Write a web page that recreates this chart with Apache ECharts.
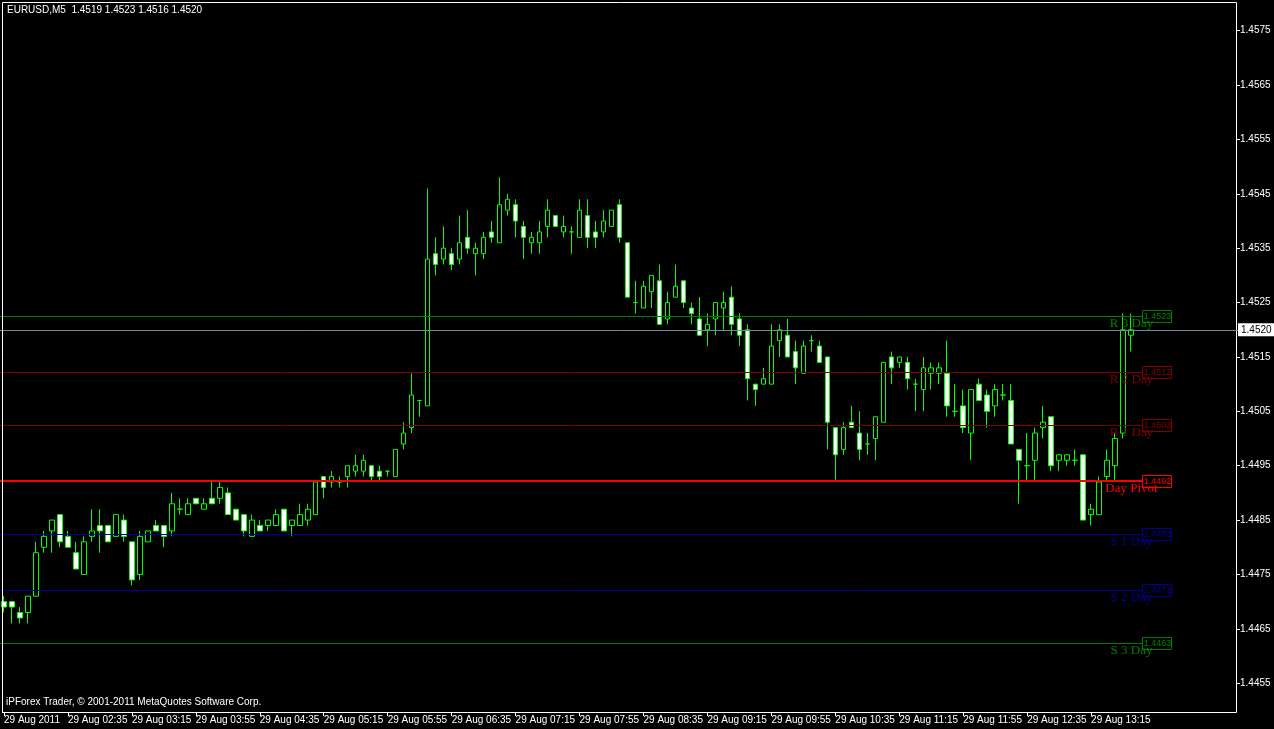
<!DOCTYPE html>
<html><head><meta charset="utf-8">
<script src="https://cdn.jsdelivr.net/npm/echarts@6/dist/echarts.min.js"></script>
<style>html,body{margin:0;padding:0;background:#000;}#c{width:1274px;height:729px;}</style>
</head><body><div id="c"></div>
<script>
const symbolName = 'EURUSD,M5';
const copyright = 'iPForex Trader, \u00a9 2001-2011 MetaQuotes Software Corp.';
const startTime = '01:55';
const barMinutes = 5;
const shiftBars = 13;

const openP = [1.4470,1.4470,1.4468,1.4468,1.4471,1.4480,1.4483,1.4486,1.4482,1.4479,
1.4475,1.4482,1.4484,1.4484,1.4482,1.4485,1.4481,1.4475,1.4481,1.4484,
1.4484,1.4483,1.4487,1.4486,1.4489,1.4487,1.4489,1.4489,1.4490,1.4487,
1.4486,1.4482,1.4484,1.4484,1.4484,1.4487,1.4484,1.4484,1.4485,1.4486,
1.4493,1.4492,1.4492,1.4493,1.4494,1.4494,1.4495,1.4494,1.4494,1.4493,
1.4499,1.4502,1.4507,1.4506,1.4534,1.4533,1.4534,1.4533,1.4537,1.4534,
1.4534,1.4538,1.4536,1.4542,1.4543,1.4539,1.4536,1.4536,1.4539,1.4541,
1.4538,1.4538,1.4537,1.4541,1.4538,1.4538,1.4539,1.4543,1.4536,1.4525,
1.4524,1.4527,1.4529,1.4522,1.4526,1.4529,1.4524,1.4522,1.4520,1.4522,
1.4524,1.4526,1.4522,1.4520,1.4510,1.4510,1.4510,1.4518,1.4519,1.4516,
1.4512,1.4518,1.4517,1.4515,1.4502,1.4498,1.4503,1.4501,1.4499,1.4500,
1.4503,1.4515,1.4514,1.4514,1.4510,1.4509,1.4512,1.4512,1.4512,1.4505,
1.4506,1.4501,1.4510,1.4508,1.4506,1.4508,1.4507,1.4498,1.4495,1.4496,
1.4502,1.4504,1.4496,1.4496,1.4496,1.4497,1.4486,1.4486,1.4493,1.4495,
1.4501,1.4519];
const closeP = [1.4469,1.4469,1.4467,1.4471,1.4479,1.4482,1.4485,1.4481,1.4480,1.4476,
1.4481,1.4483,1.4483,1.4481,1.4486,1.4482,1.4474,1.4482,1.4483,1.4483,
1.4482,1.4488,1.4487,1.4488,1.4488,1.4488,1.4488,1.4491,1.4486,1.4485,
1.4483,1.4485,1.4483,1.4485,1.4486,1.4483,1.4485,1.4486,1.4487,1.4492,
1.4491,1.4493,1.4492,1.4495,1.4495,1.4496,1.4493,1.4493,1.4494,1.4498,
1.4501,1.4508,1.4507,1.4533,1.4532,1.4535,1.4532,1.4536,1.4535,1.4535,
1.4537,1.4537,1.4543,1.4544,1.4540,1.4537,1.4537,1.4538,1.4542,1.4539,
1.4539,1.4538,1.4542,1.4537,1.4537,1.4540,1.4542,1.4537,1.4526,1.4525,
1.4528,1.4530,1.4521,1.4525,1.4528,1.4525,1.4523,1.4519,1.4521,1.4525,
1.4525,1.4521,1.4519,1.4511,1.4509,1.4511,1.4517,1.4520,1.4515,1.4513,
1.4517,1.4518,1.4514,1.4503,1.4497,1.4502,1.4502,1.4498,1.4499,1.4504,
1.4514,1.4513,1.4515,1.4511,1.4510,1.4513,1.4513,1.4513,1.4506,1.4505,
1.4502,1.4509,1.4507,1.4505,1.4509,1.4508,1.4499,1.4496,1.4495,1.4501,
1.4503,1.4495,1.4497,1.4497,1.4496,1.4485,1.4487,1.4492,1.4496,1.4500,
1.4520,1.4520];
const lowP = [1.4468,1.4466,1.4466,1.4466,1.4471,1.4479,1.4479,1.4480,1.4480,1.4476,
1.4475,1.4481,1.4479,1.4481,1.4482,1.4481,1.4473,1.4474,1.4481,1.4483,
1.4480,1.4482,1.4486,1.4486,1.4488,1.4487,1.4488,1.4488,1.4486,1.4485,
1.4482,1.4482,1.4483,1.4483,1.4484,1.4483,1.4482,1.4484,1.4484,1.4486,
1.4489,1.4491,1.4491,1.4491,1.4493,1.4493,1.4492,1.4492,1.4493,1.4493,
1.4498,1.4501,1.4504,1.4506,1.4530,1.4532,1.4531,1.4532,1.4534,1.4530,
1.4533,1.4536,1.4536,1.4541,1.4537,1.4533,1.4534,1.4534,1.4537,1.4539,
1.4537,1.4534,1.4537,1.4535,1.4535,1.4537,1.4539,1.4536,1.4526,1.4523,
1.4524,1.4524,1.4521,1.4521,1.4526,1.4524,1.4521,1.4519,1.4517,1.4519,
1.4520,1.4519,1.4517,1.4507,1.4506,1.4510,1.4510,1.4515,1.4515,1.4510,
1.4512,1.4516,1.4514,1.4498,1.4492,1.4497,1.4502,1.4496,1.4497,1.4496,
1.4503,1.4510,1.4513,1.4509,1.4505,1.4505,1.4509,1.4510,1.4504,1.4504,
1.4501,1.4496,1.4507,1.4502,1.4504,1.4507,1.4499,1.4488,1.4492,1.4492,
1.4500,1.4494,1.4494,1.4495,1.4495,1.4485,1.4484,1.4486,1.4492,1.4492,
1.4500,1.4516];
const highP = [1.4471,1.4470,1.4469,1.4471,1.4481,1.4483,1.4485,1.4486,1.4483,1.4481,
1.4482,1.4487,1.4487,1.4484,1.4486,1.4486,1.4481,1.4483,1.4483,1.4485,
1.4484,1.4490,1.4489,1.4489,1.4489,1.4489,1.4492,1.4492,1.4491,1.4487,
1.4486,1.4486,1.4485,1.4485,1.4487,1.4487,1.4485,1.4488,1.4488,1.4492,
1.4493,1.4494,1.4493,1.4495,1.4497,1.4497,1.4495,1.4495,1.4494,1.4498,
1.4503,1.4512,1.4507,1.4546,1.4537,1.4539,1.4535,1.4541,1.4542,1.4536,
1.4538,1.4540,1.4548,1.4545,1.4544,1.4540,1.4538,1.4540,1.4544,1.4541,
1.4541,1.4539,1.4544,1.4544,1.4540,1.4542,1.4542,1.4544,1.4536,1.4529,
1.4529,1.4530,1.4532,1.4527,1.4532,1.4529,1.4525,1.4526,1.4523,1.4525,
1.4527,1.4528,1.4523,1.4521,1.4510,1.4513,1.4521,1.4521,1.4522,1.4518,
1.4518,1.4519,1.4518,1.4515,1.4502,1.4503,1.4506,1.4505,1.4501,1.4504,
1.4514,1.4516,1.4515,1.4515,1.4511,1.4515,1.4514,1.4514,1.4518,1.4510,
1.4509,1.4509,1.4511,1.4509,1.4510,1.4510,1.4510,1.4498,1.4501,1.4502,
1.4506,1.4504,1.4497,1.4497,1.4498,1.4497,1.4488,1.4493,1.4498,1.4501,
1.4523,1.4523];

const xTickLabels = ['29 Aug 2011','29 Aug 02:35','29 Aug 03:15','29 Aug 03:55','29 Aug 04:35','29 Aug 05:15',
'29 Aug 05:55','29 Aug 06:35','29 Aug 07:15','29 Aug 07:55','29 Aug 08:35','29 Aug 09:15','29 Aug 09:55',
'29 Aug 10:35','29 Aug 11:15','29 Aug 11:55','29 Aug 12:35','29 Aug 13:15'];
const xTickStep = 8;
const yTickValues = [1.4455,1.4465,1.4475,1.4485,1.4495,1.4505,1.4515,1.4525,1.4535,1.4545,1.4555,1.4565,1.4575];
const yMin = 1.44497, yMax = 1.45801;

const levelNames = ['R 3 Day','R 2 Day','R 1 Day','Day Pivot','S 1 Day','S 2 Day','S 3 Day'];
const levelValues = [1.45225,1.45122,1.45025,1.44922,1.44824,1.44721,1.44624];
const levelLabels = ['1.4523','1.4512','1.4503','1.4492','1.4483','1.4472','1.4463'];

// styles
const levelStyles = [
  {color:'#008000', width:1},
  {color:'#800000', width:1},
  {color:'#800000', width:1},
  {color:'#ff0000', width:2},
  {color:'#000099', width:1},
  {color:'#000099', width:1},
  {color:'#008000', width:1}
];
const FONT = '"Liberation Sans", Arial, sans-serif';
const SERIF = '"Liberation Serif", "Times New Roman", serif';

const nBars = openP.length;
const categories = [];
{
  let [hh, mm] = startTime.split(':').map(Number);
  for (let i = 0; i < nBars + shiftBars; i++) {
    categories.push(String(hh).padStart(2,'0') + ':' + String(mm).padStart(2,'0'));
    mm += barMinutes; if (mm >= 60) { mm -= 60; hh = (hh + 1) % 24; }
  }
}
const candleData = openP.map((o, i) => [o, closeP[i], lowP[i], highP[i]]);
const last = nBars - 1;
const currentPrice = closeP[last];
const headerText = symbolName + '  ' + [openP[last], highP[last], lowP[last], closeP[last]].map(v => v.toFixed(4)).join(' ');
const tickShown = (i) => i % xTickStep === 0 && (i / xTickStep) < xTickLabels.length;

const chart = echarts.init(document.getElementById('c'), null, {renderer:'canvas'});
chart.setOption({
  backgroundColor:'#000000',
  animation:false,
  grid:{left:-1, right:35, top:3, bottom:17, containLabel:false},
  xAxis:{
    type:'category', data:categories, boundaryGap:true,
    axisLine:{show:false},
    axisTick:{show:true, alignWithLabel:true, interval:(i)=>tickShown(i), length:4, lineStyle:{color:'#ffffff'}},
    axisLabel:{show:true, interval:(i)=>tickShown(i), formatter:(v,i)=>xTickLabels[i / xTickStep] || '',
      align:'left', color:'#ffffff', fontSize:10, fontFamily:FONT, margin:3},
    splitLine:{show:false}
  },
  yAxis:{
    type:'value', position:'right', offset:-3, min:yMin, max:yMax, scale:true,
    axisLine:{show:true, lineStyle:{color:'#ffffff', width:1}},
    axisTick:{show:true, length:4, lineStyle:{color:'#ffffff'}, customValues:yTickValues},
    axisLabel:{show:true, color:'#ffffff', fontSize:10, fontFamily:FONT, margin:4, customValues:yTickValues,
      formatter:(v)=>Number(v).toFixed(4)},
    splitLine:{show:false}
  },
  graphic:[
    {type:'line', z:100, shape:{x1:2.5, y1:2.5, x2:1236.5, y2:2.5}, style:{stroke:'#ffffff', lineWidth:1}},
    {type:'line', z:100, shape:{x1:2.5, y1:2.5, x2:2.5, y2:712}, style:{stroke:'#ffffff', lineWidth:1}},
    {type:'line', z:100, shape:{x1:2, y1:712.5, x2:1236.5, y2:712.5}, style:{stroke:'#ffffff', lineWidth:1}},
    {type:'text', z:100, left:7, top:5, style:{text:headerText, fill:'#ffffff', fontSize:10, fontFamily:FONT}},
    {type:'text', z:100, left:6, top:697, style:{text:copyright, fill:'#ffffff', fontSize:10, fontFamily:FONT}}
  ],
  series:[
    {
      type:'candlestick', data:candleData, barWidth:5, z:2,
      itemStyle:{color:'#000000', color0:'#ffffff', borderColor:'#00ff00', borderColor0:'#00ff00',
        borderColorDoji:'#00ff00', borderWidth:1},
      markLine:{
        silent:true, symbol:['none','none'], animation:false, precision:4,
        lineStyle:{color:'#778899', width:1, type:'solid'},
        label:{show:true, position:'end', distance:-1, formatter:(p)=>Number(p.value).toFixed(4),
          backgroundColor:'#ffffff', color:'#000000', fontSize:10, fontFamily:FONT, padding:[2,4,1,3]},
        data:[{yAxis:currentPrice}]
      }
    },
    {
      type:'custom', z:5, silent:true, clip:false,
      data:levelValues.map(v => [0, v]),
      encode:{x:0, y:1},
      renderItem:(params, api) => {
        const i = params.dataIndex;
        const st = levelStyles[i];
        const cs = params.coordSys;
        let y = Math.round(api.coord([0, api.value(1)])[1]);
        if (st.width % 2 === 1) y += 0.5;
        const boxX = cs.x + cs.width - 96.5;
        return {type:'group', children:[
          {type:'line', shape:{x1:cs.x, y1:y, x2:boxX, y2:y}, style:{stroke:st.color, lineWidth:st.width, opacity:1}},
          {type:'text', x:boxX - 11, y:y + 1, style:{text:levelNames[i], fill:st.color, fontSize:13, fontFamily:SERIF,
            align:'center', verticalAlign:'top'}},
          {type:'rect', shape:{x:boxX, y:Math.floor(y) - 5.5, width:29, height:12}, style:{fill:'none', stroke:st.color, lineWidth:1}},
          {type:'text', x:boxX + 15, y:Math.floor(y) + 0.5, style:{text:levelLabels[i], fill:st.color, fontSize:9,
            fontFamily:FONT, align:'center', verticalAlign:'middle'}}
        ]};
      }
    }
  ]
});
</script>
</body></html>
